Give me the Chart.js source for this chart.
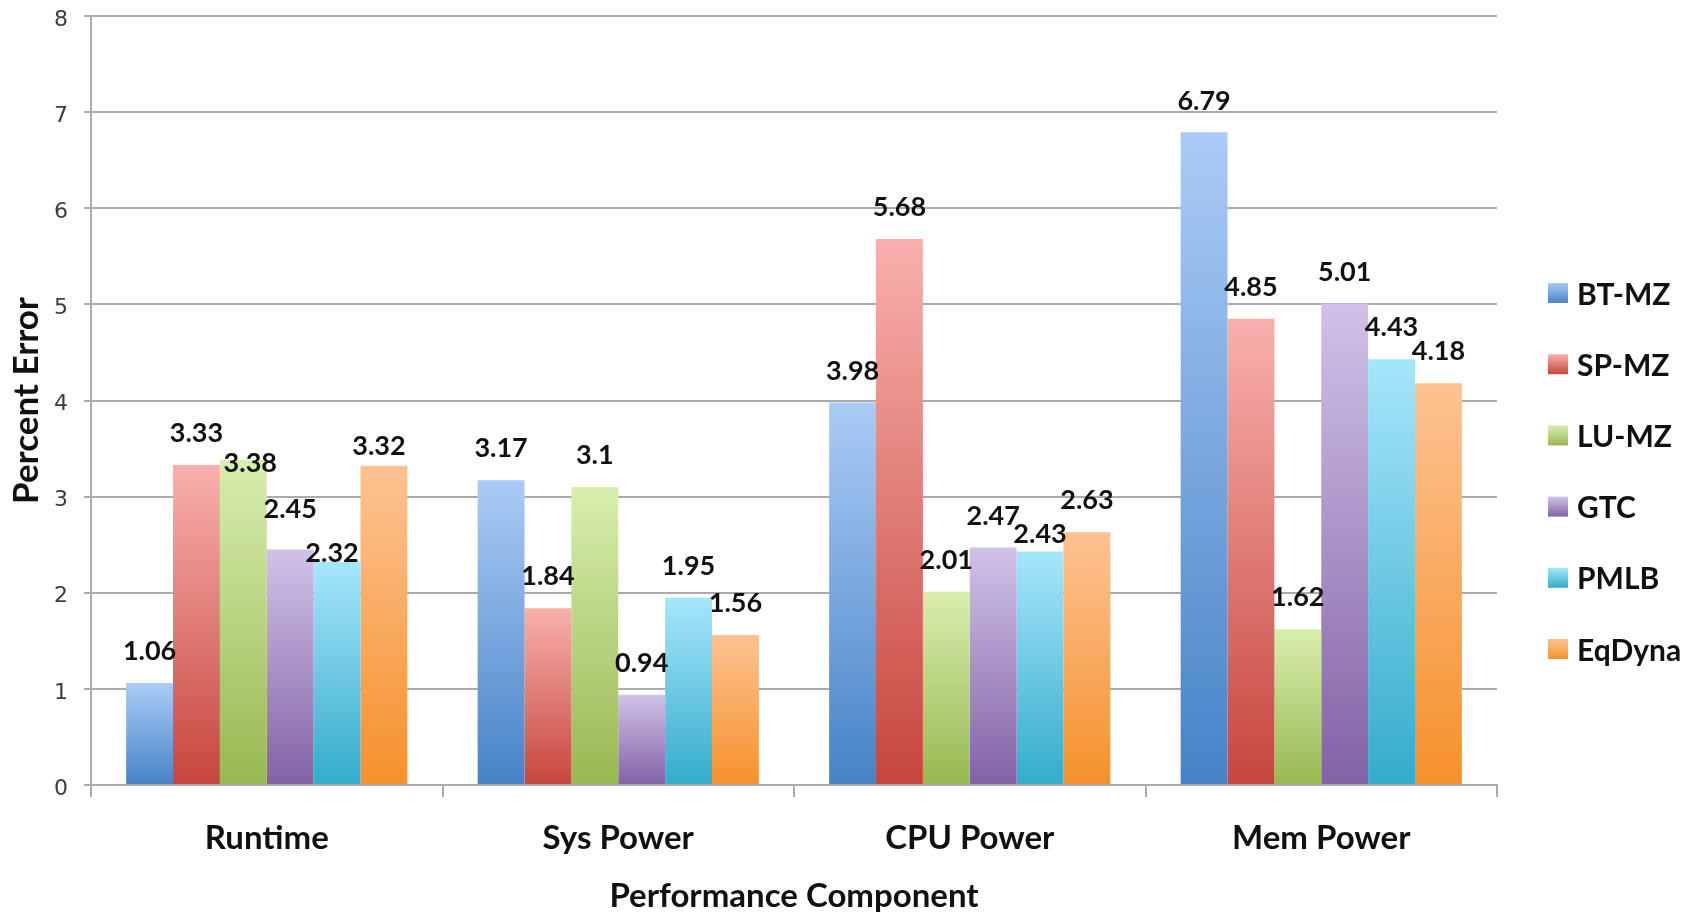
<!DOCTYPE html>
<html>
<head>
<meta charset="utf-8">
<title>Percent Error by Performance Component</title>
<script src="https://cdn.jsdelivr.net/npm/chart.js@4.4.1/dist/chart.umd.min.js"></script>
<style>
  html, body { margin: 0; padding: 0; background: #ffffff; }
  #wrap { width: 1701px; height: 916px; }
</style>
</head>
<body>
<div id="wrap"><canvas id="chart" width="1701" height="916"></canvas></div>
<script>
// ---- data ----
const categories = ['Runtime', 'Sys Power', 'CPU Power', 'Mem Power'];
const seriesNames = ['BT-MZ', 'SP-MZ', 'LU-MZ', 'GTC', 'PMLB', 'EqDyna'];
const btMz   = [1.06, 3.17, 3.98, 6.79];
const spMz   = [3.33, 1.84, 5.68, 4.85];
const luMz   = [3.38, 3.10, 2.01, 1.62];
const gtc    = [2.45, 0.94, 2.47, 5.01];
const pmlb   = [2.32, 1.95, 2.43, 4.43];
const eqDyna = [3.32, 1.56, 2.63, 4.18];
const yMin = 0, yMax = 8, yStep = 1;

// ---- styling ----
const seriesValues = [btMz, spMz, luMz, gtc, pmlb, eqDyna];
const gradientTop    = ['#abcbf6', '#f9b0ad', '#d8eeae', '#d0c2e9', '#a6e6fb', '#fdc392'];
const gradientBottom = ['#4683c6', '#c6463d', '#98b851', '#8361a5', '#34accb', '#f5912c'];
const labelFont = { family: 'Lato, "Open Sans", sans-serif', weight: 'bold' };
const valueLift = 31.5;            // px from bar top to the centre of its value label
// hand placement for value labels that would otherwise collide: [category, series, lift, dx]
const labelTweaks = [
  ['Runtime', 'LU-MZ', -3, 7],
  ['Runtime', 'GTC', 40, 0],
  ['Runtime', 'PMLB', 9, -5],
  ['Runtime', 'EqDyna', 20, -5],
  ['CPU Power', 'PMLB', 17.5, 0]
];

function barGradient(ctx, i, top, bottom) {
  const g = ctx.createLinearGradient(0, top, 0, bottom);
  g.addColorStop(0, gradientTop[i]);
  g.addColorStop(1, gradientBottom[i]);
  return g;
}

const datasets = seriesNames.map((name, i) => ({
  label: name,
  data: seriesValues[i],
  borderWidth: 0,
  barPercentage: 1.0,
  categoryPercentage: 0.8,
  backgroundColor: (c) => {
    const chart = c.chart;
    const ys = chart.scales && chart.scales.y;
    if (c.type !== 'data' || !chart.chartArea || !ys) return gradientBottom[i];
    const top = ys.getPixelForValue(c.parsed ? c.parsed.y : c.raw);
    const bottom = ys.getPixelForValue(0);
    if (!isFinite(top) || !isFinite(bottom) || top === bottom) return gradientBottom[i];
    return barGradient(chart.ctx, i, top, bottom);
  }
}));

// value labels above each bar
const valueLabels = {
  id: 'valueLabels',
  afterDatasetsDraw(chart) {
    const ctx = chart.ctx;
    ctx.save();
    ctx.font = `bold 27px ${labelFont.family}`;
    ctx.fillStyle = '#111111';
    ctx.textAlign = 'center';
    ctx.textBaseline = 'middle';
    chart.data.datasets.forEach((ds, di) => {
      const meta = chart.getDatasetMeta(di);
      meta.data.forEach((bar, ci) => {
        let lift = valueLift, dx = 0;
        const t = labelTweaks.find(r => r[0] === categories[ci] && r[1] === ds.label);
        if (t) { lift = t[2]; dx = t[3]; }
        ctx.fillText(String(ds.data[ci]), bar.x + dx, bar.y - lift);
      });
    });
    ctx.restore();
  }
};

// legend at the right: gradient squares and bold names
const sideLegend = {
  id: 'sideLegend',
  afterDraw(chart) {
    const ctx = chart.ctx;
    const boxX = 1548, box = 20, textX = 1577, firstY = 293, gap = 71.2;
    ctx.save();
    ctx.font = `bold 30px ${labelFont.family}`;
    ctx.textAlign = 'left';
    ctx.textBaseline = 'middle';
    chart.data.datasets.forEach((ds, i) => {
      const cy = firstY + i * gap;
      ctx.fillStyle = barGradient(ctx, i, cy - box / 2, cy + box / 2);
      ctx.fillRect(boxX, cy - box / 2, box, box);
      ctx.fillStyle = '#111111';
      ctx.fillText(ds.label, textX, cy + 2);
    });
    ctx.restore();
  }
};

const axisGrey = '#ababab';

new Chart(document.getElementById('chart'), {
  type: 'bar',
  data: { labels: categories, datasets },
  options: {
    responsive: false,
    animation: false,
    devicePixelRatio: 1,
    layout: { padding: { left: 0, top: 16, right: 204, bottom: 0 } },
    plugins: {
      legend: { display: false },
      tooltip: { enabled: false }
    },
    scales: {
      x: {
        offset: true,
        grid: {
          offset: true,
          drawOnChartArea: false,
          drawTicks: true,
          tickLength: 12,
          color: axisGrey,
          lineWidth: 2
        },
        border: { display: true, color: axisGrey, width: 2 },
        ticks: {
          color: '#111111',
          padding: 22,
          font: { family: labelFont.family, weight: 'bold', size: 33 }
        },
        title: {
          display: true,
          text: 'Performance Component',
          color: '#111111',
          font: { family: labelFont.family, weight: 'bold', size: 33 },
          padding: { top: 0, bottom: 0 }
        },
        afterFit(scale) { scale.height = 131; }
      },
      y: {
        min: yMin,
        max: yMax,
        grid: {
          color: axisGrey,
          lineWidth: 2,
          drawTicks: true,
          tickLength: 7
        },
        border: { display: true, color: axisGrey, width: 2 },
        ticks: {
          stepSize: yStep,
          padding: 16,
          labelOffset: 4,
          color: '#3c3c3c',
          font: { family: '"DejaVu Sans", sans-serif', size: 22 }
        },
        title: {
          display: true,
          text: 'Percent Error',
          color: '#111111',
          font: { family: labelFont.family, weight: 'bold', size: 35 },
          padding: { top: 6, bottom: 0 }
        },
        afterFit(scale) {
          scale.width = 91;
          scale.paddingTop = 0;
          scale.paddingBottom = 0;
        }
      }
    }
  },
  plugins: [valueLabels, sideLegend]
});
</script>
</body>
</html>
